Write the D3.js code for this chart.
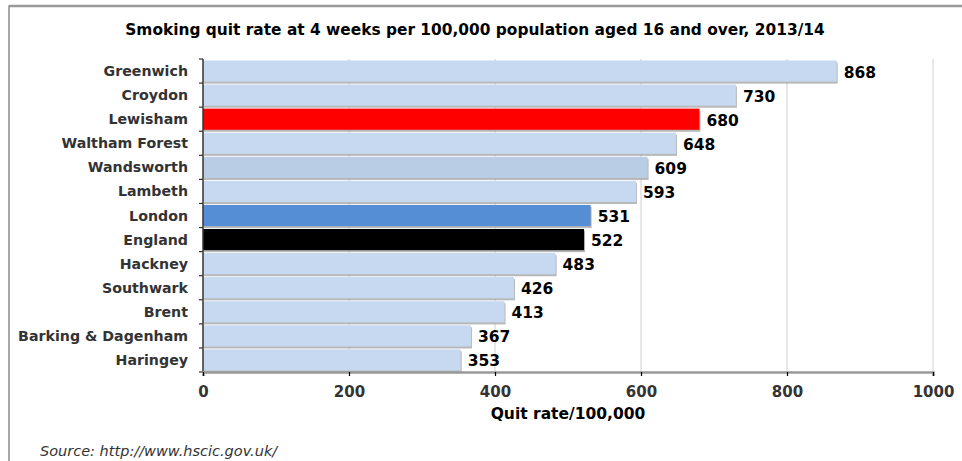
<!DOCTYPE html>
<html><head><meta charset="utf-8">
<script src="https://cdn.jsdelivr.net/npm/d3@7"></script>
<style>
body{margin:0;background:#fff;}
svg{display:block;}
text{font-family:"DejaVu Sans",Verdana,sans-serif;}
</style></head>
<body>
<svg id="chart" width="962" height="461"></svg>
<script>
const categories = ["Greenwich","Croydon","Lewisham","Waltham Forest","Wandsworth","Lambeth","London","England","Hackney","Southwark","Brent","Barking & Dagenham","Haringey"];
const values = [868,730,680,648,609,593,531,522,483,426,413,367,353];
const barColors = ["#c6d9f1","#c6d9f1","#ff0000","#c6d9f1","#b9cde5","#c6d9f1","#558ed5","#000000","#c6d9f1","#c6d9f1","#c6d9f1","#c6d9f1","#c6d9f1"];
const xTicks = [0,200,400,600,800,1000];
const title = "Smoking quit rate at 4 weeks per 100,000 population aged 16 and over, 2013/14";
const xTitle = "Quit rate/100,000";
const source = "Source: http://www.hscic.gov.uk/";

const svg = d3.select("#chart");
const m = {left:203, right:933, top:59, bottom:372};

// frame
svg.append("rect").attr("x",9).attr("y",6).attr("width",1000).attr("height",1000)
  .attr("fill","none").attr("stroke","#8a8a8a").attr("stroke-width",1.5);
svg.append("line").attr("x1",9).attr("x2",962).attr("y1",6).attr("y2",6).attr("stroke","#999").attr("stroke-width",2.5);

const x = d3.scaleLinear().domain([0,1000]).range([m.left,m.right]);
const y = d3.scaleBand().domain(categories).range([m.top,m.bottom]).paddingInner(0.12).paddingOuter(0.06);

// gridlines
svg.append("g").selectAll("line").data(xTicks.filter(d=>d>0)).join("line")
  .attr("x1",d=>x(d)).attr("x2",d=>x(d)).attr("y1",m.top).attr("y2",m.bottom)
  .attr("stroke","#d0d0d0").attr("stroke-width",1);

// shadows
svg.append("g").selectAll("rect").data(categories).join("rect")
  .attr("x",x(0)+1).attr("y",d=>y(d)+2)
  .attr("width",(d,i)=>x(values[i])-x(0)).attr("height",y.bandwidth())
  .attr("fill","#a6a6a6").attr("opacity",0.8);
// bars
svg.append("g").selectAll("rect").data(categories).join("rect")
  .attr("x",x(0)).attr("y",d=>y(d))
  .attr("width",(d,i)=>x(values[i])-x(0)).attr("height",y.bandwidth())
  .attr("fill",(d,i)=>barColors[i]);

// value labels
svg.append("g").selectAll("text").data(categories).join("text")
  .attr("x",(d,i)=>x(values[i])+7).attr("y",d=>y(d)+y.bandwidth()/2+2)
  .attr("dominant-baseline","middle")
  .attr("font-size",15.5).attr("font-weight","bold").attr("fill","#000")
  .text((d,i)=>values[i]);

// y axis
const yAxis = svg.append("g").attr("transform",`translate(${m.left},0)`);
yAxis.append("line").attr("x1",0).attr("x2",0).attr("y1",m.top).attr("y2",m.bottom).attr("stroke","#333").attr("stroke-width",1.5);
const bounds = categories.map(c=>y(c)-y.step()*y.paddingInner()/2).concat([m.bottom]);
bounds[0]=m.top;
yAxis.selectAll("line.t").data(bounds).join("line").attr("class","t")
  .attr("x1",-4).attr("x2",0).attr("y1",d=>d).attr("y2",d=>d).attr("stroke","#333").attr("stroke-width",1.2);
yAxis.selectAll("text").data(categories).join("text")
  .attr("x",-15).attr("y",d=>y(d)+y.bandwidth()/2+1)
  .attr("dominant-baseline","middle").attr("text-anchor","end")
  .attr("font-size",14.2).attr("font-weight","bold").attr("fill","#333")
  .text(d=>d);

// x axis
const xAxis = svg.append("g").attr("transform",`translate(0,${m.bottom})`)
  .call(d3.axisBottom(x).tickValues(xTicks).tickSize(4).tickPadding(10).tickFormat(d3.format("d")));
xAxis.select(".domain").attr("stroke","#999").attr("stroke-width",2.5);
xAxis.selectAll(".tick line").attr("stroke","#000").attr("stroke-width",1.2);
xAxis.selectAll(".tick text").attr("font-size",15).attr("font-weight","bold").attr("fill","#333")
  .attr("font-family","'DejaVu Sans Condensed','DejaVu Sans',sans-serif");

svg.append("text").attr("x",(m.left+m.right)/2).attr("y",419).attr("text-anchor","middle")
  .attr("font-size",15.5).attr("font-weight","bold").attr("fill","#000")
  .attr("font-family","'DejaVu Sans Condensed','DejaVu Sans',sans-serif").text(xTitle);

svg.append("text").attr("x",475).attr("y",35).attr("text-anchor","middle")
  .attr("font-size",15.4).attr("font-weight","bold").attr("fill","#000")
  .attr("font-family","'DejaVu Sans Condensed','DejaVu Sans',sans-serif").text(title);

svg.append("text").attr("x",40).attr("y",456)
  .attr("font-size",14.5).attr("font-style","italic").attr("fill","#333")
  .attr("font-family","'DejaVu Sans Condensed','DejaVu Sans',sans-serif").text(source);
</script>
</body></html>
